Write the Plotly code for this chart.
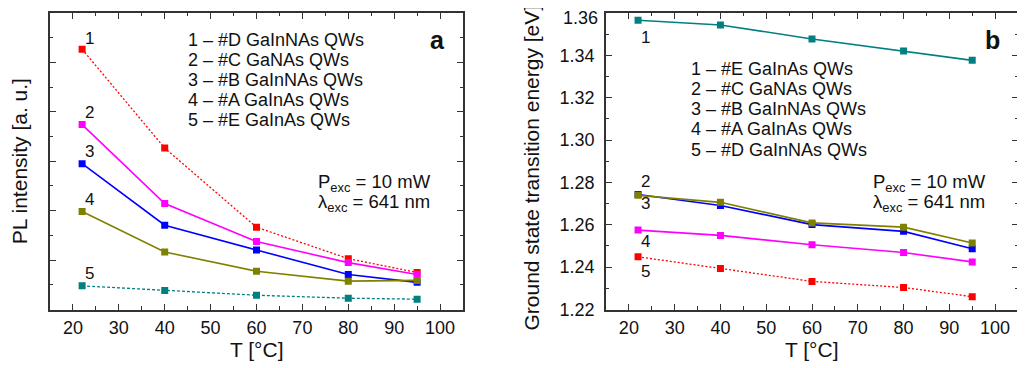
import plotly.graph_objects as go

# ---------------- data ----------------
T = [22, 40, 60, 80, 95]

# panel a: PL intensity (arbitrary units)
pl_names = ["1 – #D GaInNAs QWs", "2 – #C GaNAs QWs", "3 – #B GaInNAs QWs",
            "4 – #A GaInAs QWs", "5 – #E GaInAs QWs"]
pl_1 = [10.53, 6.53, 3.33, 2.06, 1.50]
pl_2 = [7.48, 4.29, 2.75, 1.90, 1.42]
pl_3 = [5.90, 3.41, 2.41, 1.42, 1.10]
pl_4 = [3.97, 2.33, 1.55, 1.15, 1.18]
pl_5 = [0.96, 0.77, 0.58, 0.46, 0.42]

# panel b: ground state transition energy [eV]
e_names = ["1 – #E GaInAs QWs", "2 – #C GaNAs QWs", "3 – #B GaInNAs QWs",
           "4 – #A GaInAs QWs", "5 – #D GaInNAs QWs"]
e_1 = [1.3565, 1.3543, 1.3477, 1.3420, 1.3376]
e_2 = [1.2739, 1.2706, 1.2609, 1.2589, 1.2514]
e_3 = [1.2743, 1.2691, 1.2601, 1.2569, 1.2487]
e_4 = [1.2575, 1.2550, 1.2506, 1.2469, 1.2425]
e_5 = [1.2449, 1.2394, 1.2333, 1.2304, 1.2261]

x_ticks = [20, 30, 40, 50, 60, 70, 80, 90, 100]
e_ticks = [1.22, 1.24, 1.26, 1.28, 1.30, 1.32, 1.34, 1.36]

# ---------------- styles ----------------
RED, MAG, BLUE, OLIVE, TEAL = "#ff0000", "#ff00ff", "#0000ff", "#808000", "#008080"
FONT = "Arial, Liberation Sans, Helvetica, sans-serif"
OFFX, OFFY = 8, 0            # where the figure lands in the browser window
W, H = 1025 - OFFX, 368 - OFFY

def px(x, y):
    return (x - OFFX) / W, 1 - (y - OFFY) / H

fig = go.Figure()

def add_series(xa, ya, y, color, dash):
    fig.add_trace(go.Scatter(
        x=T, y=y, xaxis=xa, yaxis=ya, mode="lines+markers",
        line=dict(color=color, width=1.6 if dash == "solid" else 1.3, dash=dash),
        marker=dict(symbol="square", size=7, color=color),
        showlegend=False, hoverinfo="skip"))

# panel a
add_series("x", "y", pl_1, RED, "2px,2px")
add_series("x", "y", pl_2, MAG, "solid")
add_series("x", "y", pl_3, BLUE, "solid")
add_series("x", "y", pl_4, OLIVE, "solid")
add_series("x", "y", pl_5, TEAL, "3px,2px")
# panel b
add_series("x2", "y2", e_1, TEAL, "solid")
add_series("x2", "y2", e_3, BLUE, "solid")
add_series("x2", "y2", e_2, OLIVE, "solid")
add_series("x2", "y2", e_4, MAG, "solid")
add_series("x2", "y2", e_5, RED, "2px,2px")

AX = "#333333"
TICKFONT = dict(family=FONT, size=18, color="#111")
common_x = dict(range=[15, 105], tickvals=x_ticks, ticks="inside", ticklen=6,
                tickwidth=1.2, tickcolor=AX, showline=True, linecolor=AX, linewidth=1.5,
                mirror="allticks", showgrid=False, zeroline=False,
                minor=dict(dtick=5, ticks="inside", ticklen=3.5, tickcolor=AX, tickwidth=1.2),
                tickfont=TICKFONT, ticklabelstandoff=1)
common_y = dict(ticks="inside", ticklen=6, tickwidth=1.2, tickcolor=AX, showline=True,
                linecolor=AX, linewidth=1.5, mirror="allticks", showgrid=False,
                zeroline=False, tickfont=TICKFONT)

ya = 1 - (310 - OFFY) / H
yb = 1 - (5 - OFFY) / H
fig.update_layout(
    width=W, height=H, margin=dict(l=0, r=0, t=0, b=0),
    plot_bgcolor="white", paper_bgcolor="white", showlegend=False,
    font=dict(family=FONT, color="#111"),
    xaxis=dict(domain=[(50 - OFFX) / W, (463 - OFFX) / W], anchor="y", **common_x),
    yaxis=dict(domain=[ya, yb], anchor="x", range=[0, 12], dtick=2,
               showticklabels=False,
               minor=dict(dtick=1, ticks="inside", ticklen=3.5, tickcolor=AX, tickwidth=1.2),
               **common_y),
    xaxis2=dict(domain=[(606 - OFFX) / W, (1018 - OFFX) / W], anchor="y2", **common_x),
    yaxis2=dict(domain=[ya, yb], anchor="x2", range=[1.22, 1.36], tickvals=e_ticks,
                tickformat=".2f", ticklabelstandoff=6,
                minor=dict(dtick=0.01, tick0=1.22, ticks="inside", ticklen=3.5,
                           tickcolor=AX, tickwidth=1.2),
                **common_y),
)

ann = []

def text(x, y, s, size=18, anchor="left", bold=False, angle=0):
    X, Y = px(x, y)
    ann.append(dict(x=X, y=Y, xref="paper", yref="paper", text=f"<b>{s}</b>" if bold else s,
                    showarrow=False, xanchor=anchor, yanchor="middle", textangle=angle,
                    font=dict(family=FONT, size=size, color="#111")))

# top tick label of panel b (the axis hides it at the page edge), kept inside the page
ann.append(dict(x=15, y=e_ticks[-1], xref="x2", yref="y2",
                text=f"{e_ticks[-1]:.2f}", showarrow=False, xanchor="right", yanchor="top",
                xshift=-7, yshift=6, borderpad=0, font=TICKFONT))

# axis titles
text(256.5, 351, "T [°C]", 21, "center")
text(812, 351, "T [°C]", 21, "center")
text(19, 157.5, "PL intensity [a. u.]", 21, "center", angle=-90)
text(532, 164, "Ground state transition energy [eV]", 21, "center", angle=-90)

# legends (text)
for i, n in enumerate(pl_names):
    text(186, 32.5 + 20.7 * i, n, 18)
for i, n in enumerate(e_names):
    text(689, 62.7 + 20.7 * i, n, 18)

# panel letters
text(437, 33, "a", 25, "center", bold=True)
text(992, 33, "b", 25, "center", bold=True)

# excitation conditions
for x0 in (316, 871):
    text(x0, 180, "P<sub>exc</sub> = 10 mW", 18.5)
    text(x0, 200, "λ<sub>exc</sub> = 641 nm", 18.5)

# series number labels, anchored to first data point
for k, (ys, dy) in enumerate(zip([pl_1, pl_2, pl_3, pl_4, pl_5], [-11, -12, -12, -12, -12])):
    ann.append(dict(x=T[0], y=ys[0], xref="x", yref="y", text=str(k + 1), showarrow=False,
                    xshift=7, yshift=-dy, font=dict(family=FONT, size=17, color="#111")))
for lab, ys, dy in zip(["1", "2", "3", "4", "5"], [e_1, e_2, e_3, e_4, e_5], [17, -14, 9, 11, 15]):
    ann.append(dict(x=T[0], y=ys[0], xref="x2", yref="y2", text=lab, showarrow=False,
                    xshift=7, yshift=-dy, font=dict(family=FONT, size=17, color="#111")))

fig.update_layout(annotations=ann)
fig.write_html("out.html")
